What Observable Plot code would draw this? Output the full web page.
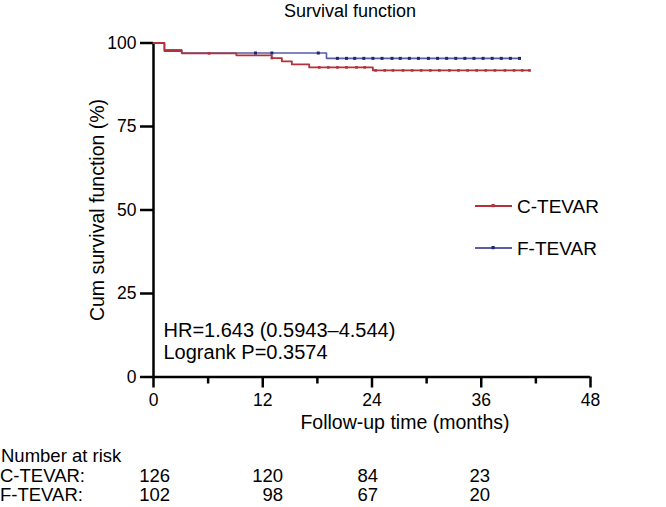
<!DOCTYPE html>
<html><head><meta charset="utf-8">
<script src="https://cdn.jsdelivr.net/npm/d3@7"></script>
<script src="https://cdn.jsdelivr.net/npm/@observablehq/plot@0.6"></script>
<style>
body{margin:0;background:#fff;}
#wrap{position:relative;width:666px;height:507px;font-family:"Liberation Sans",Arial,sans-serif;color:#000;overflow:hidden;background:#fff}
.t{position:absolute;white-space:nowrap;line-height:1;font-size:19px}
#chart{position:absolute;left:0;top:0}
</style></head><body><div id="wrap"><div id="chart"></div></div>
<script>
// ---- data ----
const groups = ["C-TEVAR", "F-TEVAR"];
const cTime = [0, 1.2, 3.1, 9.1, 13.0, 14.1, 15.2, 17.1, 24.1, 41.3];
const cSurv = [100, 97.6, 96.9, 96.3, 95.5, 94.5, 93.6, 92.7, 91.8, 91.8];
const fTime = [0, 1.2, 3.1, 19.0, 40.2];
const fSurv = [100, 98.0, 97.0, 95.4, 95.4];
const cCensor = [6.1, 13.0, 18.2, 19.2, 20.2, 21.2, 22.3, 23.2, 24.4, 25.4, 26.3, 27.4, 28.4, 29.4, 30.4, 31.4, 32.5, 33.5, 34.5, 35.5, 36.5, 37.5, 38.6, 39.6, 40.5, 41.3];
const fCensor = [11.2, 13.0, 18.1, 20.2, 21.2, 22.1, 23.1, 24.1, 25.1, 26.2, 27.1, 28.1, 29.1, 30.2, 31.2, 32.2, 33.2, 34.2, 35.2, 36.2, 37.2, 38.2, 39.2, 40.2];
const xTicks = [0, 12, 24, 36, 48];
const xMinorTicks = [6, 18, 30, 42];
const yTicks = [0, 25, 50, 75, 100];
const riskGroups = ["C-TEVAR:", "F-TEVAR:"];
const cRisk = [126, 120, 84, 23];
const fRisk = [102, 98, 67, 20];
const titleText = "Survival function";
const xLabel = "Follow-up time (months)";
const yLabel = "Cum survival function (%)";
const statsText = ["HR=1.643 (0.5943\u20134.544)", "Logrank P=0.3574"];

// ---- styles ----
const lineColor = {"C-TEVAR": "#b3323a", "F-TEVAR": "#5a5ea8"};
const markColor = {"C-TEVAR": "#b3323a", "F-TEVAR": "#1d2577"};
const FONT = '"Liberation Sans", Arial, sans-serif';

function stepAt(times, surv, t) {
  let v = surv[0];
  for (let i = 0; i < times.length; i++) if (times[i] <= t) v = surv[i];
  return v;
}
const cLine = cTime.map((t, i) => ({t, s: cSurv[i]}));
const fLine = fTime.map((t, i) => ({t, s: fSurv[i]}));
const cMarks = cCensor.map(t => ({t, s: stepAt(cTime, cSurv, t)}));
const fMarks = fCensor.map(t => ({t, s: stepAt(fTime, fSurv, t)}));

const W = 666, H = 440, Y0 = 376.5, Y100 = 42.5;
const chart = Plot.plot({
  width: W, height: H,
  marginLeft: 153, marginRight: 76, marginTop: Y100, marginBottom: H - Y0,
  x: {domain: [0, 48]},
  y: {domain: [0, 100]},
  style: {fontFamily: FONT, fontSize: "17px", color: "#000", background: "#fff", overflow: "visible"},
  marks: [
    Plot.axisX({ticks: xTicks, tickSize: 11, tickPadding: 6, strokeWidth: 2.5, fontSize: 17.5, label: null}),
    Plot.axisX({ticks: xMinorTicks, tickSize: 7, strokeWidth: 2.5, text: null, label: null}),
    Plot.axisY({ticks: yTicks, tickSize: 13, tickPadding: 4, strokeWidth: 2.5, fontSize: 17.5, label: null}),
    Plot.ruleY([0], {x1: 0, x2: 48, strokeWidth: 2.5, stroke: "#000"}),
    Plot.ruleX([0], {y1: 0, y2: 100, strokeWidth: 2.5, stroke: "#000"}),
    Plot.line(fLine, {x: "t", y: "s", curve: "step-after", stroke: lineColor["F-TEVAR"], strokeWidth: 1.6}),
    Plot.line(cLine, {x: "t", y: "s", curve: "step-after", stroke: lineColor["C-TEVAR"], strokeWidth: 1.8}),
    Plot.dot(fMarks, {x: "t", y: "s", symbol: "square", r: 1.7, fill: markColor["F-TEVAR"], stroke: null}),
    Plot.dot(cMarks, {x: "t", y: "s", symbol: "square", r: 1.5, fill: markColor["C-TEVAR"], stroke: null}),
    Plot.text([xLabel], {frameAnchor: "bottom", textAnchor: "middle", dx: 33, dy: 52, fontSize: 19.5, fill: "#000"}),
    Plot.text([yLabel], {frameAnchor: "left", rotate: -90, textAnchor: "middle", lineAnchor: "bottom", dx: -50, fontSize: 19.5, fill: "#000"}),
    Plot.text([statsText.join("\n")], {frameAnchor: "bottom-left", textAnchor: "start", lineAnchor: "bottom", dx: 10, dy: -18.5, lineHeight: 1.1, fontSize: 20, fill: "#000"})
  ]
});
document.getElementById("chart").appendChild(chart);

// ---- html text: title, legend, risk table ----
const wrap = document.getElementById("wrap");
function addText(txt, left, baseline, size, align) {
  const d = document.createElement("div");
  d.className = "t";
  d.style.fontSize = size + "px";
  d.textContent = txt;
  d.style.top = (baseline - 0.8465 * size) + "px";
  d.style.left = left + "px";
  if (align === "center") d.style.transform = "translateX(-50%)";
  else if (align === "end") d.style.transform = "translateX(-100%)";
  wrap.appendChild(d);
  return d;
}
addText(titleText, 350, 17.5, 18, "center");

// legend
const legY = [206, 248];
groups.forEach((g, i) => {
  const s = document.createElementNS("http://www.w3.org/2000/svg", "svg");
  s.setAttribute("width", 40); s.setAttribute("height", 10);
  s.style.position = "absolute"; s.style.left = "474px"; s.style.top = (legY[i] - 5) + "px";
  s.innerHTML = `<line x1="1" x2="38" y1="5" y2="5" stroke="${lineColor[g]}" stroke-width="1.8"/>` +
    `<rect x="17.5" y="3" width="3.2" height="3.2" fill="${markColor[g]}"/>`;
  wrap.appendChild(s);
  addText(g, 517, legY[i] + 6.8, 19, "start");
});

// risk table
addText("Number at risk", 1, 463, 18.5, "start");
const riskRight = [170, 283, 378, 490];
const riskRows = [cRisk, fRisk];
const riskBase = [483, 502];
riskGroups.forEach((g, i) => {
  addText(g, 0, riskBase[i], 18.5, "start");
  riskRows[i].forEach((v, j) => addText(String(v), riskRight[j], riskBase[i], 18.5, "end"));
});
</script></body></html>
